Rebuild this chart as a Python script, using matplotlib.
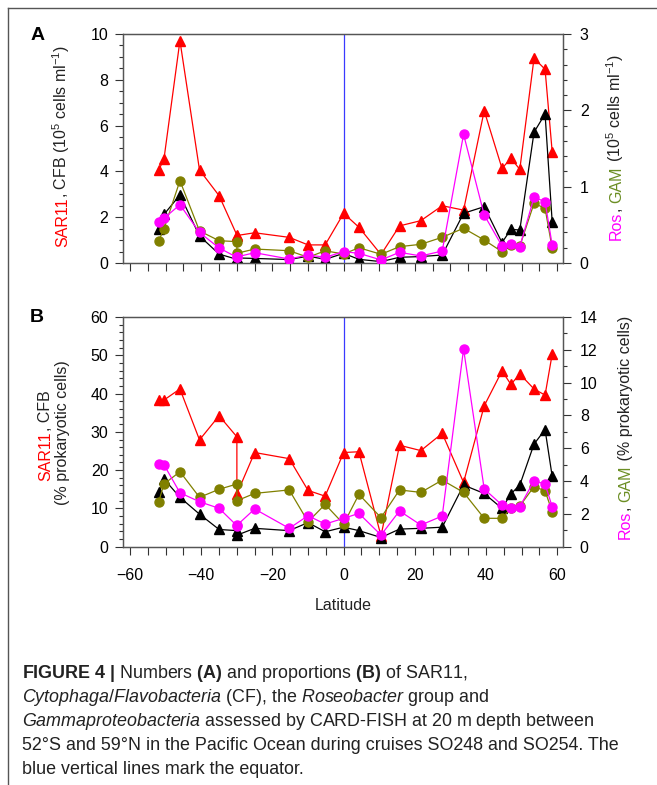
import matplotlib
matplotlib.use("Agg")
import matplotlib.pyplot as plt
from matplotlib.ticker import MultipleLocator
from matplotlib.lines import Line2D
from matplotlib.text import Text

# --- data ---
latitude = [-52, -50.5, -46, -40.5, -35, -30, -30, -25, -15.3, -10, -5.2, 0, 4.3, 10.5,
            15.7, 21.7, 27.7, 33.7, 39.5, 44.5, 47, 49.5, 53.5, 56.6, 58.6]

# panel A, 10^5 cells ml-1
sar11_cells = [4.05, 4.53, 9.71, 4.06, 2.94, 1.22, 1.2, 1.32, 1.12, 0.79, 0.79, 2.17, 1.56, 0.37,
               1.62, 1.85, 2.5, 2.31, 6.65, 4.13, 4.57, 4.09, 8.94, 8.46, 4.86]
cfb_cells = [1.48, 2.12, 2.97, 1.18, 0.39, 0.16, 0.22, 0.2, 0.15, 0.3, 0.16, 0.42, 0.16, 0.06,
             0.25, 0.28, 0.35, 2.17, 2.46, 0.89, 1.47, 1.44, 5.71, 6.51, 1.8]
ros_cells = [0.533, 0.585, 0.764, 0.40, 0.197, 0.075, 0.08, 0.135, 0.052, 0.105, 0.075, 0.148,
             0.127, 0.04, 0.14, 0.092, 0.157, 1.686, 0.629, 0.223, 0.249, 0.214, 0.861, 0.803, 0.236]
gam_cells = [0.288, 0.445, 1.078, 0.42, 0.292, 0.28, 0.127, 0.183, 0.161, 0.075, 0.16, 0.118,
             0.2, 0.114, 0.214, 0.245, 0.337, 0.455, 0.301, 0.148, 0.24, 0.22, 0.782, 0.717, 0.192]

# panel B, % prokaryotic cells
sar11_pct = [38.3, 38.3, 41.2, 27.9, 34.2, 28.7, 13.8, 24.6, 23.0, 14.7, 13.2, 24.6, 24.8, 2.8,
             26.5, 25.1, 29.6, 16.8, 36.8, 45.9, 42.4, 45.1, 41.2, 39.6, 50.3]
cfb_pct = [14.2, 17.7, 12.9, 8.5, 4.5, 4.2, 3.0, 4.8, 4.2, 6.3, 3.9, 5.1, 4.2, 2.4,
           4.6, 4.8, 5.1, 16.1, 13.9, 10.0, 13.8, 16.1, 26.8, 30.6, 18.4]
ros_pct = [5.04, 5.0, 3.29, 2.74, 2.34, 1.28, 1.3, 2.3, 1.12, 1.89, 1.38, 1.73, 2.03, 0.71,
           2.18, 1.32, 1.87, 12.05, 3.52, 2.54, 2.38, 2.44, 4.02, 3.82, 2.44]
gam_pct = [2.71, 3.82, 4.57, 3.01, 3.5, 3.82, 2.8, 3.25, 3.46, 1.52, 2.58, 1.38, 3.19, 1.77,
           3.46, 3.31, 4.06, 3.31, 1.73, 1.73, 2.35, 2.48, 3.66, 3.41, 2.13]

x_ticks = [-60, -40, -20, 0, 20, 40, 60]

RED = "#ff0000"
PINK = "#ff00ff"
OLIVE = "#808000"
GAM_TXT = "#6b8e23"
SPINE = "#555555"
FS = 11.5

plt.rcParams["font.family"] = ["Liberation Sans", "DejaVu Sans"]
plt.rcParams["mathtext.fontset"] = "custom"
plt.rcParams["mathtext.rm"] = "Liberation Sans"
plt.rcParams["mathtext.it"] = "Liberation Sans:italic"
plt.rcParams["mathtext.bf"] = "Liberation Sans:bold"

fig = plt.figure(figsize=(6.57, 7.85), dpi=100)
renderer = fig.canvas.get_renderer()


def advance(s, size):
    # run length of a string in pixels (keeps spaces)
    t = Text(0, 0, "|" + s + "|", fontsize=size)
    t.set_figure(fig)
    w1 = t.get_window_extent(renderer).width
    t.set_text("||")
    w2 = t.get_window_extent(renderer).width
    return w1 - w2


def vertical_label(x_px, y_center_px, parts, size=FS):
    lengths = [advance(s, size) for s, _ in parts]
    y = (785 - y_center_px) - sum(lengths) / 2
    for (s, c), L in zip(parts, lengths):
        fig.text(x_px / 657, y / 785, s, color=c, fontsize=size, rotation=90,
                 rotation_mode="anchor", ha="left", va="baseline")
        y += L


def style_axes(ax, ax2, left_minor, right_minor, show_xlabels):
    for a in (ax, ax2):
        for sp in a.spines.values():
            sp.set_color(SPINE)
            sp.set_linewidth(0.9)
    ax.set_xlim(-62, 61.5)
    ax.set_xticks(x_ticks)
    ax.xaxis.set_minor_locator(MultipleLocator(5))
    ax.yaxis.set_minor_locator(MultipleLocator(left_minor))
    ax2.yaxis.set_minor_locator(MultipleLocator(right_minor))
    ax.tick_params(axis="x", which="both", direction="out", length=6, width=0.8,
                   color="#333333", labelsize=FS, pad=9, labelbottom=show_xlabels)
    ax.tick_params(axis="y", which="major", direction="out", length=5.5, width=0.8,
                   color="#333333", labelsize=FS, pad=5)
    ax.tick_params(axis="y", which="minor", direction="out", length=3, width=0.8, color="#333333")
    ax2.tick_params(axis="y", which="major", direction="out", length=5.5, width=0.8,
                    color="#333333", labelsize=FS, pad=7)
    ax2.tick_params(axis="y", which="minor", direction="out", length=3, width=0.8, color="#333333")
    ax.axvline(0, color="#3a3aff", lw=0.9, zorder=1)


def draw_panel(ax, ax2, sar, cfb, ros, gam):
    ax.plot(latitude, sar, color=RED, lw=0.9, marker="^", ms=7, mec=RED, zorder=3)
    ax.plot(latitude, cfb, color="black", lw=0.9, marker="^", ms=7, zorder=3)
    ax2.plot(latitude, gam, color=OLIVE, lw=0.9, marker="o", ms=6.5, mec=OLIVE, zorder=3)
    ax2.plot(latitude, ros, color=PINK, lw=0.9, marker="o", ms=6.5, mec=PINK, zorder=4)


# --- panel A ---
axA = fig.add_axes([123 / 657, 1 - 263 / 785, 439.5 / 657, 229 / 785])
axA2 = axA.twinx()
draw_panel(axA, axA2, sar11_cells, cfb_cells, ros_cells, gam_cells)
axA.set_ylim(0, 10)
axA.set_yticks([0, 2, 4, 6, 8, 10])
axA2.set_ylim(0, 3)
axA2.set_yticks([0, 1, 2, 3])
style_axes(axA, axA2, 0.5, 0.2, False)

# --- panel B ---
axB = fig.add_axes([123 / 657, 1 - 546.7 / 785, 439.5 / 657, 229.7 / 785])
axB2 = axB.twinx()
draw_panel(axB, axB2, sar11_pct, cfb_pct, ros_pct, gam_pct)
axB.set_ylim(0, 60)
axB.set_yticks([0, 10, 20, 30, 40, 50, 60])
axB2.set_ylim(0, 14)
axB2.set_yticks([0, 2, 4, 6, 8, 10, 12, 14])
style_axes(axB, axB2, 2, 1, True)

# axis labels
vertical_label(67, 146, [("SAR11", RED), (", CFB (10$^5$ cells ml$^{-1}$)", "#222222")])
vertical_label(621, 147.5, [("Ros", PINK), (", ", "#222222"), ("GAM", GAM_TXT),
                            (" (10$^5$ cells ml$^{-1}$)", "#222222")])
vertical_label(50, 435.5, [("SAR11", RED), (", CFB", "#222222")])
vertical_label(67, 432.5, [("(% prokaryotic cells)", "#222222")])
vertical_label(630, 427.5, [("Ros", PINK), (", ", "#222222"), ("GAM", GAM_TXT),
                            (" (% prokaryotic cells)", "#222222")])

fig.text(343 / 657, 1 - 606 / 785, "Latitude", ha="center", va="center", fontsize=FS, color="#222222")
fig.text(38 / 657, 1 - 35 / 785, "A", ha="center", va="center", fontsize=14, fontweight="bold")
fig.text(37 / 657, 1 - 318 / 785, "B", ha="center", va="center", fontsize=14, fontweight="bold")

# frame lines of the figure box
fig.add_artist(Line2D([8 / 657, 1], [1 - 8 / 785, 1 - 8 / 785], color="#555555", lw=1.0,
                      transform=fig.transFigure))
fig.add_artist(Line2D([8 / 657, 8 / 657], [1 - 8 / 785, 0], color="#555555", lw=1.0,
                      transform=fig.transFigure))

# caption
caption = [
    r"$\mathbf{FIGURE\ 4\ |}$ Numbers $\mathbf{(A)}$ and proportions $\mathbf{(B)}$ of SAR11,",
    r"$\mathit{Cytophaga/Flavobacteria}$ (CF), the $\mathit{Roseobacter}$ group and",
    r"$\mathit{Gammaproteobacteria}$ assessed by CARD-FISH at 20 m depth between",
    "52°S and 59°N in the Pacific Ocean during cruises SO248 and SO254. The",
    "blue vertical lines mark the equator.",
]
for i, line in enumerate(caption):
    fig.text(22 / 657, 1 - (674 + 24 * i) / 785, line, ha="left", va="center",
             fontsize=12.9, color="#222222")

fig.savefig("out.png", dpi=100)
